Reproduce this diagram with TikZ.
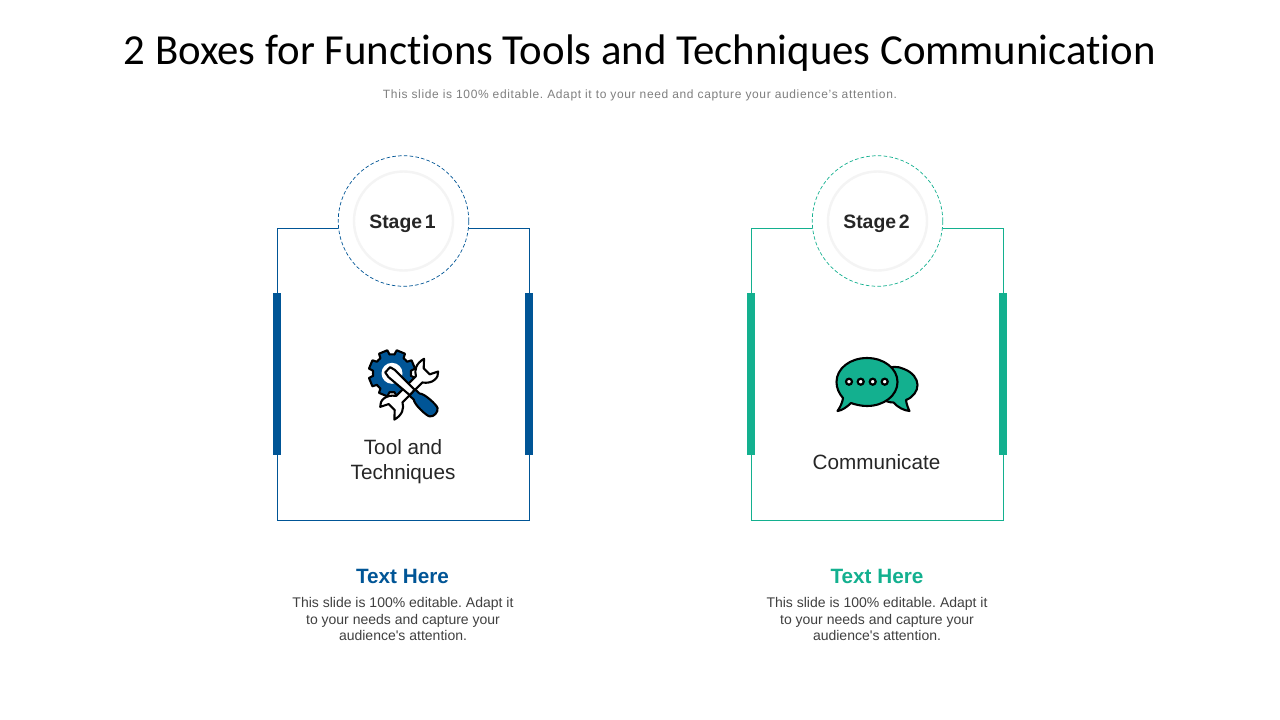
\documentclass[tikz,border=0pt]{standalone}
\usepackage{fontspec}
\setmainfont{Liberation Sans}
\newfontfamily\titlefont{Carlito}[Ligatures=NoCommon]
\newfontfamily\plainfont{Liberation Sans}
\definecolor{bluec}{HTML}{005596}
\definecolor{tealc}{HTML}{13B08F}
\definecolor{ringc}{HTML}{F4F4F4}
\definecolor{inkc}{HTML}{262626}
\definecolor{bodyc}{HTML}{404040}
\definecolor{subc}{HTML}{7F7F7F}
\tikzset{
  boxframe/.style={draw=#1,line width=0.8pt,fill=white,minimum width=252pt,minimum height=292pt,inner sep=0pt,rectangle},
  sidebar/.style={fill=#1,draw=none,minimum width=8pt,minimum height=162pt,inner sep=0pt,rectangle},
  dashring/.style={circle,draw=#1,fill=white,line width=0.7pt,dash pattern=on 3.6pt off 2.2pt,minimum size=130.5pt,inner sep=0pt},
  softring/.style={circle,draw=ringc,fill=white,line width=2.4pt,minimum size=99pt,inner sep=0pt},
  stagetxt/.style={font=\fontsize{19.4}{24}\selectfont\bfseries,text=inkc,inner sep=0pt},
  labeltxt/.style={font=\fontsize{20.7}{25}\selectfont,text=inkc,align=center,inner sep=0pt},
  headtxt/.style={font=\fontsize{20.7}{24}\selectfont\bfseries,text=#1,inner sep=0pt},
  bodytxt/.style={font=\plainfont\frenchspacing\fontsize{14}{16.4}\selectfont,text=bodyc,align=center,inner sep=0pt},
  iconline/.style={draw=black,line width=2.1pt,line join=round},
}
\begin{document}
\begin{tikzpicture}[x=1pt,y=-1pt]
\useasboundingbox (0,0) rectangle (1280,720);
\fill[white] (0,0) rectangle (1280,720);
\node[font=\titlefont\fontsize{42.8}{48}\selectfont,text=black,inner sep=0pt,anchor=base] (title) at (640,64) {2 Boxes for Functions Tools and Techniques Communication};
\node[font=\frenchspacing\fontsize{12}{14}\selectfont,text=subc,inner sep=0pt] (subtitle) at (640,95.5) {\addfontfeatures{LetterSpace=5.4}This slide is 100\% editable. Adapt it to your need and capture your audience’s attention.};

% Stage 1
\node[boxframe=bluec] (boxA) at (403.5,374.5) {};
\node[sidebar=bluec] (barAl) at (277,374) {};
\node[sidebar=bluec] (barAr) at (529,374) {};
\node[dashring=bluec] (dashA) at (403.5,221) {};
\node[softring] (ringA) at (403.5,221) {};
\node[stagetxt] (stageA) at (402.5,224) {Stage\hspace{0.14em}1};
\node[labeltxt] (labelA) at (403,461.5) {Tool and\\Techniques};
\node[headtxt=bluec] (headA) at (402.5,576) {Text Here};
\node[bodytxt] (bodyA) at (403,619) {This slide is 100\% editable. Adapt it\\to your needs and capture your\\audience's attention.};

% gear
\begin{scope}[shift={(392,373.3)}]
  \path[fill=bluec,iconline] (7.5:19)
    \foreach \a in {22.5,67.5,...,337.5} {
      -- ({\a-15}:19) -- ({\a-11}:23.5) -- ({\a+11}:23.5) -- ({\a+15}:19) -- ({\a+22.5}:19)
    } -- cycle;
  \fill[white] (0,0) circle (10.5);
\end{scope}
% wrench
\begin{scope}[shift={(409.2,389.2)},rotate=45]
  \path[fill=white,iconline]
    (-14,-4.5) -- (14,-4.5) .. controls (17,-10) and (23,-13.5) .. (32,-11)
    -- (25,-4.5) -- (25,4) -- (33,8) .. controls (29,13) and (20,13) .. (14,4.5)
    -- (-14,4.5) .. controls (-17,10) and (-23,13.5) .. (-32,11)
    -- (-25,4.5) -- (-25,-4) -- (-33,-8) .. controls (-29,-13) and (-20,-13) .. (-14,-4.5) -- cycle;
\end{scope}
% screwdriver
\begin{scope}[shift={(389.5,371.5)},rotate=-42.7]
  \path[fill=white,iconline]
    (-2.5,-3.6) -- (3,-4.8) -- (31,-3.6) -- (31,3.6) -- (3,4.8) -- (-2.5,3.6) -- cycle;
  \path[fill=bluec,iconline]
    (31,-4.2) -- (37,-4.2) .. controls (40,-7.5) and (57,-7.6) .. (60,-5.8) .. controls (63.5,-3) and (63.5,3) .. (60,5.8)
    .. controls (57,7.6) and (40,7.5) .. (37,4.2) -- (31,4.2) -- cycle;
\end{scope}

% Stage 2
\node[boxframe=tealc] (boxB) at (877.5,374.5) {};
\node[sidebar=tealc] (barBl) at (751,374) {};
\node[sidebar=tealc] (barBr) at (1003,374) {};
\node[dashring=tealc] (dashB) at (877.5,221) {};
\node[softring] (ringB) at (877.5,221) {};
\node[stagetxt] (stageB) at (876.5,224) {Stage\hspace{0.14em}2};
\node[labeltxt] (labelB) at (876.5,462) {Communicate};
\node[headtxt=tealc] (headB) at (877,576) {Text Here};
\node[bodytxt] (bodyB) at (877,619) {This slide is 100\% editable. Adapt it\\to your needs and capture your\\audience's attention.};

% speech bubbles
\path[fill=tealc,iconline]
  (884,370) .. controls (890,366) and (898,366) .. (904,369)
  .. controls (913,372.5) and (917.5,379) .. (917.5,385)
  .. controls (917.5,391) and (913.5,397) .. (906,400)
  .. controls (906.5,404) and (908,408) .. (909.5,411)
  .. controls (904,410.5) and (898,407.5) .. (893.5,402.5)
  .. controls (889,402.5) and (885,401) .. (880,398) -- cycle;
\path[fill=tealc,iconline]
  (867,358) .. controls (884,358) and (897.5,368.5) .. (897.5,382)
  .. controls (897.5,395.5) and (884,406) .. (867,406)
  .. controls (861,406) and (855,404.5) .. (851,403)
  .. controls (847,407) and (842,410.5) .. (837.5,411)
  .. controls (840,407.5) and (842.5,402.5) .. (843,398)
  .. controls (839,393.5) and (836.5,388) .. (836.5,382)
  .. controls (836.5,368.5) and (850,358) .. (867,358) -- cycle;
\foreach \px in {849,860.7,872.7,884.7}
  \path[fill=white,draw=black,line width=2.2pt] (\px,381.7) circle (3);
\end{tikzpicture}
\end{document}
